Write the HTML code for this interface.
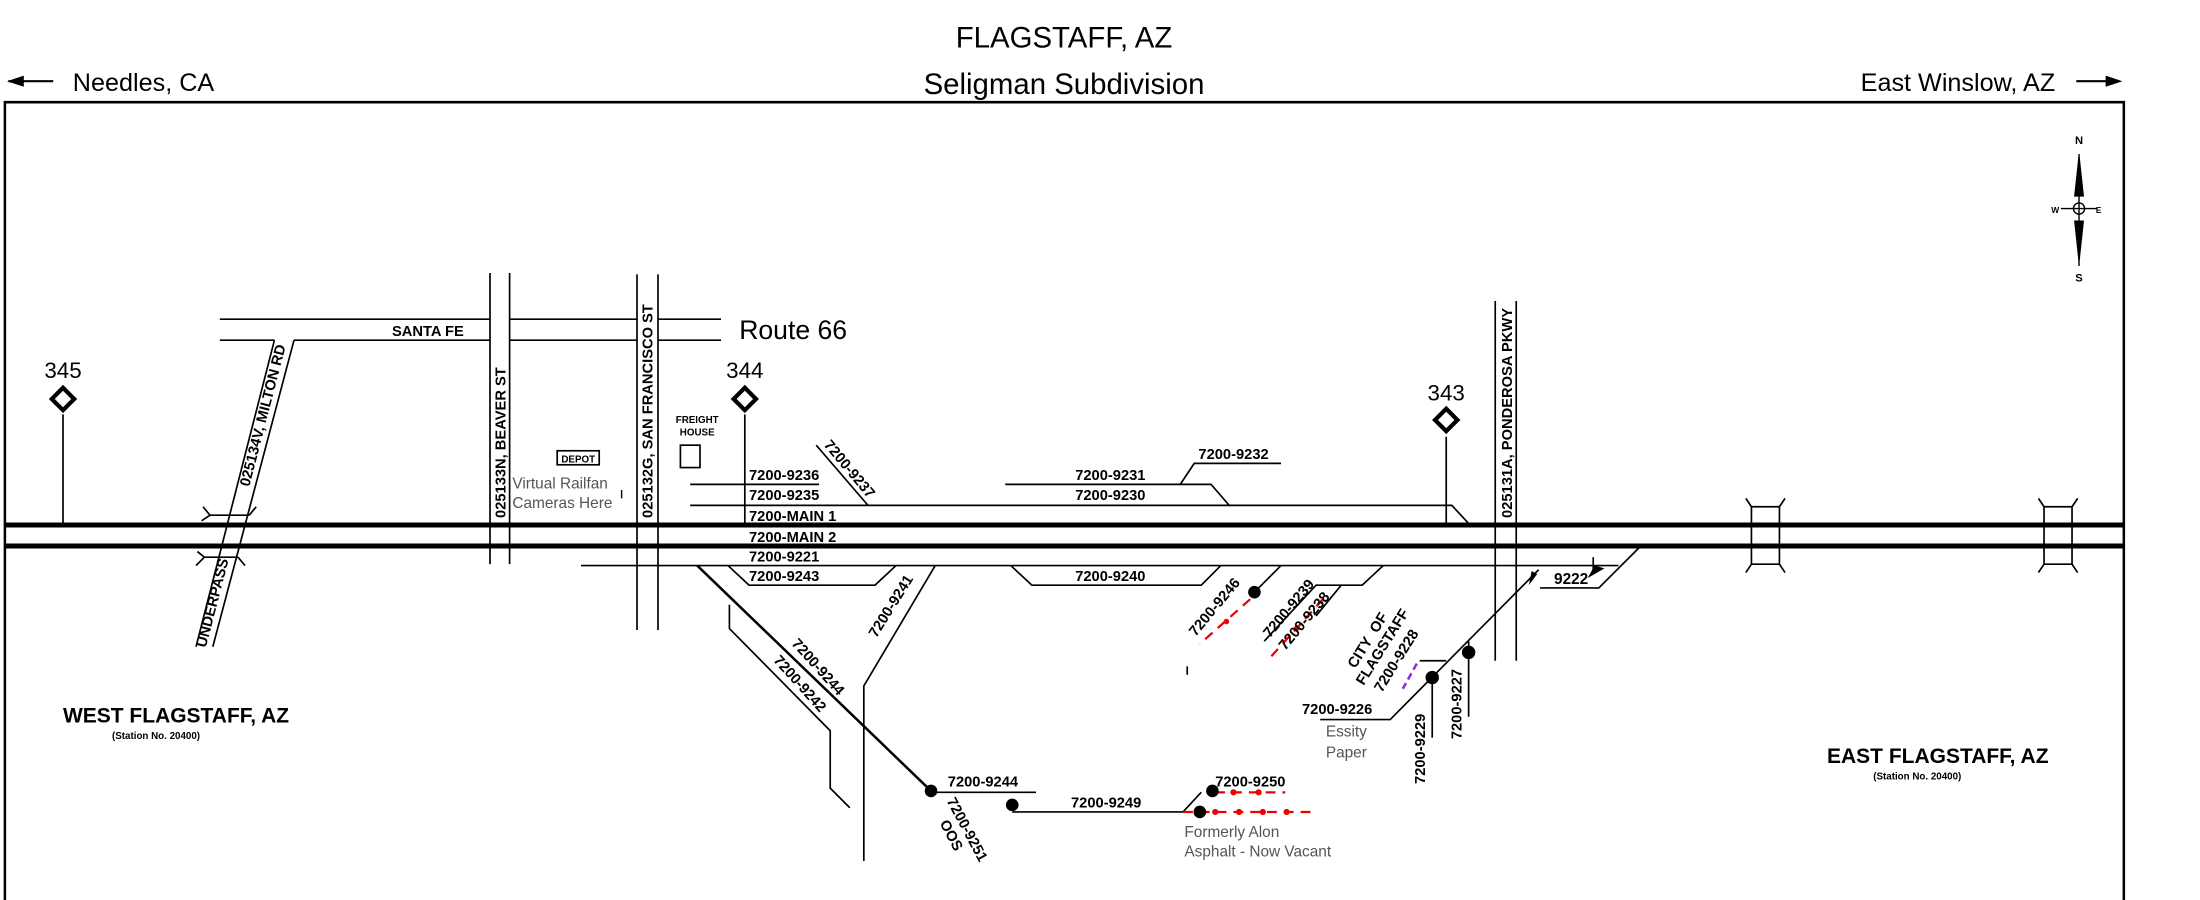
<!DOCTYPE html>
<html><head><meta charset="utf-8"><style>
html,body{margin:0;padding:0;background:#fff;}
svg{display:block;}
text{font-family:"Liberation Sans Narrow","Liberation Sans",sans-serif;}
.b{font-weight:bold;font-size:10.5px;}
.g{fill:#555;font-family:"Liberation Sans",sans-serif;font-size:11px;}
</style></head><body>
<svg width="2200" height="900" viewBox="0 0 1571.4 642.9" preserveAspectRatio="none" xmlns="http://www.w3.org/2000/svg">
<g fill="none" stroke="#000" stroke-width="1.2">
<path d="M3.5 660 V73 H1517 V660" stroke-width="1.8"/>
<line x1="3.5" y1="375" x2="1517" y2="375" stroke-width="3.6"/>
<line x1="3.5" y1="390" x2="1517" y2="390" stroke-width="3.6"/>
<path d="M157 228 H350 M364 228 H455 M470 228 H515 M157 243 H196 M210 243 H350 M364 243 H455 M470 243 H515"/>
<path d="M350 195 V403 M364 195 V403 M455 196 V450 M470 196 V450"/>
<path d="M196 243 L140 462 M210 243 L152 462"/>
<path d="M150 368 L178 368 M146 398 L170 398 M145 362 L150 368 L144 372 M183 362 L178 368 M140 404 L146 398 L141 394 M175 404 L170 398"/>
<path d="M45 296 V375 M532 296 V375 M1033 312 V375"/>
<path d="M1068 215 V472 M1083 215 V472"/>
<path d="M1251 362 V403 M1271 362 V403 M1251 362 H1271 M1251 403 H1271 M1247 356 L1251 362 M1275 356 L1271 362 M1247 409 L1251 403 M1275 409 L1271 403"/>
<path d="M1460 362 V403 M1480 362 V403 M1460 362 H1480 M1460 403 H1480 M1456 356 L1460 362 M1484 356 L1480 362 M1456 409 L1460 403 M1484 409 L1480 403"/>
<path d="M493 346 H585 M493 361 H1037 L1050 375 M718 346 H865 L878 361 M843 346 L853 331 H915"/>
<path d="M583 318 L620 361"/>
<path d="M415 404 H1156"/>
<path d="M1100 420 H1142 L1171 391"/>
<path d="M520 404 L535 418 H625 L640 404"/>
<path d="M722 404 L737 418 H858 L872 404"/>
<path d="M668 404 L617 490 V615"/>
<path d="M521 432 V449 L593 522 V563 L607 577"/>
<path d="M498 404 L665 565" stroke-width="1.8"/>
<path d="M665 566 H740 M723 580 H845 L858 566"/>
<path d="M915 404 L896 423"/>
<path d="M988 404 L973 418 H940 L903 458 M958 418 L940 440"/>
<path d="M1099 407 L993 514 H943"/>
<path d="M1023 484 V527 M1049 458 V512 M1014 472 H1033"/>
<path d="M1138 398 V410"/>
<path d="M848 476 V482"/>
</g>
<g stroke="#e00" stroke-width="1.6" fill="none" stroke-dasharray="7 5">
<path d="M893 428 L857 460"/>
<path d="M945 428 L907 470"/>
<path d="M868 566 H918"/>
<path d="M845 580 H940"/>
</g>
<g fill="#e00">
<circle cx="881" cy="566" r="2.2"/><circle cx="899" cy="566" r="2.2"/>
<circle cx="868" cy="580" r="2.2"/><circle cx="885" cy="580" r="2.2"/><circle cx="902" cy="580" r="2.2"/><circle cx="919" cy="580" r="2.2"/>
<circle cx="876" cy="444" r="2"/><circle cx="926" cy="449" r="2"/>
</g>
<path d="M1012 474 L1002 492" stroke="#8a2be2" stroke-width="1.8" stroke-dasharray="5 3"/>
<g fill="#000">
<circle cx="665" cy="565" r="4.5"/><circle cx="723" cy="575" r="4.5"/>
<circle cx="866" cy="565" r="4.5"/><circle cx="857" cy="580" r="4.5"/>
<circle cx="896" cy="423" r="4.5"/><circle cx="1023" cy="484" r="4.8"/><circle cx="1049" cy="466" r="4.8"/>
</g>
<g fill="none" stroke="#000" stroke-width="3">
<path d="M45 277 L53 285 L45 293 L37 285 Z"/>
<path d="M532 277 L540 285 L532 293 L524 285 Z"/>
<path d="M1033 292 L1041 300 L1033 308 L1025 300 Z"/>
</g>
<g font-family="Liberation Sans,sans-serif" font-size="16" text-anchor="middle">
<text x="45" y="270">345</text><text x="532" y="270">344</text><text x="1033" y="286">343</text>
</g>
<rect x="398" y="322" width="30" height="10" fill="none" stroke="#000" stroke-width="1.2"/>
<text x="413" y="330.5" font-size="7" font-weight="bold" text-anchor="middle">DEPOT</text>
<rect x="486" y="318" width="14" height="16" fill="none" stroke="#000" stroke-width="1.2"/>
<text x="498" y="302" font-size="7" font-weight="bold" text-anchor="middle">FREIGHT</text>
<text x="498" y="311" font-size="7" font-weight="bold" text-anchor="middle">HOUSE</text>
<path d="M1146 406 L1134 413 L1139 404 Z" fill="#000"/>
<path d="M1098 410 L1092 418 L1094 408 Z" fill="#000"/>
<g stroke="#000" stroke-width="1" fill="none">
<path d="M1485 110 V190 M1472 149 H1498"/>
<circle cx="1485" cy="149" r="4"/>
<path d="M1485 112 L1482 140 L1488 140 Z M1485 186 L1482 158 L1488 158 Z" fill="#000"/>
</g>
<g font-size="8" font-weight="bold" text-anchor="middle" font-family="Liberation Sans,sans-serif">
<text x="1485" y="103">N</text><text x="1485" y="201">S</text><text x="1468" y="152" font-size="6">W</text><text x="1499" y="152" font-size="6">E</text>
</g>
<g font-family="Liberation Sans,sans-serif" text-anchor="middle" font-size="21">
<text x="760" y="34">FLAGSTAFF, AZ</text>
<text x="760" y="67">Seligman Subdivision</text>
</g>
<text x="52" y="65" font-family="Liberation Sans,sans-serif" font-size="18">Needles, CA</text>
<text x="1468" y="65" font-family="Liberation Sans,sans-serif" font-size="18" text-anchor="end">East Winslow, AZ</text>
<path d="M6 58 H38 M1483 58 H1512" stroke="#000" stroke-width="1.5"/>
<path d="M5 58 L17 54 L17 62 Z M1516 58 L1504 54 L1504 62 Z" fill="#000"/>
<text x="528" y="242" font-family="Liberation Sans,sans-serif" font-size="19">Route 66</text>
<text x="280" y="240" class="b" font-size="9">SANTA FE</text>
<text class="b" font-size="9" transform="translate(361,370) rotate(-90)" font-family="Liberation Sans,sans-serif">025133N, BEAVER ST</text>
<text class="b" font-size="9" transform="translate(466,370) rotate(-90)" font-family="Liberation Sans,sans-serif">025132G, SAN FRANCISCO ST</text>
<text class="b" font-size="9" transform="translate(1080,370) rotate(-90)" font-family="Liberation Sans,sans-serif">025131A, PONDEROSA PKWY</text>
<text class="b" font-size="9" transform="translate(178,348) rotate(-75.5)" font-family="Liberation Sans,sans-serif">025134V, MILTON RD</text>
<text class="b" font-size="8.5" transform="translate(147,463) rotate(-75.5)">UNDERPASS</text>
<text x="366" y="349" class="g">Virtual Railfan</text>
<text x="366" y="363" class="g">Cameras Here</text>
<line x1="444" y1="350" x2="444" y2="356" stroke="#000"/>
<g class="b">
<text x="535" y="343">7200-9236</text>
<text x="535" y="357">7200-9235</text>
<text x="535" y="372">7200-MAIN 1</text>
<text x="535" y="387">7200-MAIN 2</text>
<text x="535" y="401">7200-9221</text>
<text x="535" y="415">7200-9243</text>
<text x="768" y="343">7200-9231</text>
<text x="768" y="357">7200-9230</text>
<text x="856" y="328">7200-9232</text>
<text x="768" y="415">7200-9240</text>
<text x="1110" y="417" font-size="11">9222</text>
<text x="677" y="562">7200-9244</text>
<text x="765" y="577">7200-9249</text>
<text x="868" y="562">7200-9250</text>
<text x="930" y="510">7200-9226</text>
<text transform="translate(588,318) rotate(50)">7200-9237</text>
<text transform="translate(626,456) rotate(-58)">7200-9241</text>
<text transform="translate(565,460) rotate(48)">7200-9244</text>
<text transform="translate(552,472) rotate(48)">7200-9242</text>
<text transform="translate(676,572) rotate(62)">7200-9251</text>
<text transform="translate(671,588) rotate(62)">OOS</text>
<text transform="translate(854,455) rotate(-50)">7200-9246</text>
<text transform="translate(907,456) rotate(-50)">7200-9239</text>
<text transform="translate(918,465) rotate(-50)">7200-9238</text>
<text transform="translate(968,478) rotate(-58)">CITY&#160;&#160;OF</text>
<text transform="translate(974,490) rotate(-58)">FLAGSTAFF</text>
<text transform="translate(987,495) rotate(-58)">7200-9228</text>
<text transform="translate(1018,560) rotate(-90)">7200-9229</text>
<text transform="translate(1044,528) rotate(-90)">7200-9227</text>
</g>
<text x="947" y="526" class="g">Essity</text>
<text x="947" y="541" class="g">Paper</text>
<text x="846" y="598" class="g">Formerly Alon</text>
<text x="846" y="612" class="g">Asphalt - Now Vacant</text>
<text x="45" y="516" font-weight="bold" font-size="15">WEST FLAGSTAFF, AZ</text>
<text x="80" y="528" font-weight="bold" font-size="7">(Station No. 20400)</text>
<text x="1305" y="545" font-weight="bold" font-size="15">EAST FLAGSTAFF, AZ</text>
<text x="1338" y="557" font-weight="bold" font-size="7">(Station No. 20400)</text>
</svg>
</body></html>
